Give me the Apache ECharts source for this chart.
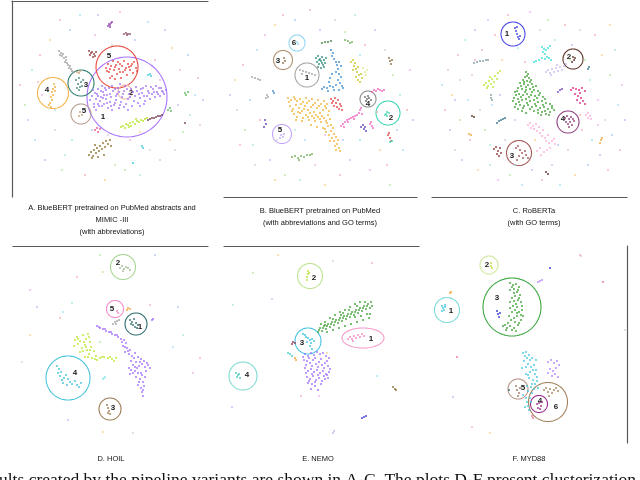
<!DOCTYPE html>
<html>
<head>
<meta charset="utf-8">
<title>Cluster maps</title>
<script src="https://cdn.jsdelivr.net/npm/echarts@6.0.0/dist/echarts.min.js"></script>
<style>
    html, body {margin:0; padding:0; background:#fff;}
    #chart {width:640px; height:480px;}
</style>
</head>
<body>
<div id="chart"></div>
<script>
// ---- data: local embedding coordinates per panel ----
// each panel: list of clusters (points as [x, y]), background points, circled groups [x, y, rx, ry, label, labelX, labelY]

var clustersA = [
    // big purple group
    [[90,100],[92,96],[94,104],[96,99],[97,94],[99,106],[100,101],[101,97],[103,92],[104,104],[106,99],[107,95],[108,108],[110,102],[111,97],[113,91],[114,105],[116,100],[117,94],[118,88],[119,108],[121,102],[122,97],[124,91],[125,86],[126,104],[128,99],[129,94],[131,89],[132,106],[134,101],[135,96],[137,91],[138,103],[140,98],[142,93],[143,88],[145,101],[147,96],[148,91],[150,99],[152,94],[153,89],[155,97],[157,92],[159,88],[160,96],[162,91],[164,94],[166,90],[96,110],[112,110],[128,110],[144,104],[105,88],[140,106],
     [93,90],[95,93],[98,89],[101,91],[102,86],[104,95],[106,90],[109,88],[110,94],[112,86],[115,89],[116,96],[119,92],[120,84],[123,94],[127,89],[130,97],[133,92],[136,87],[139,94],[141,89],[144,96],[146,86],[149,93],[151,87],[154,92],[156,86],[158,94],[161,88],[163,92],[94,107],[98,104],[102,106],[107,103],[111,106],[115,103],[120,105],[124,107],[98,96],[103,98]],
    // red
    [[106,68],[108,64],[109,72],[111,66],[112,76],[113,61],[114,70],[116,65],[117,74],[118,62],[119,69],[121,78],[122,66],[123,72],[124,61],[126,68],[127,75],[128,64],[130,70],[131,66],[133,73],[134,62],[136,68],[137,71],[115,79],[110,78],[107,71],[110,69],[115,67],[120,64],[125,70],[129,67],[132,64],[120,72]],
    // grey
    [[59,51],[61,53],[62,56],[63,54],[64,58],[66,60],[65,62],[67,63],[68,65],[70,66],[69,68],[71,69],[72,71],[74,72],[66,57],[60,55]],
    // dark red
    [[89,51],[91,53],[90,55],[92,52],[94,54],[93,57],[95,56],[96,52]],
    // purple small
    [[108,26],[109,24],[110,25],[111,23],[110,27],[112,22]],
    // maroon
    [[124,34],[126,33],[127,35],[128,34],[130,34]],
    // teal
    [[76,80],[78,84],[79,78],[80,87],[81,82],[82,86],[77,88],[83,80],[79,90]],
    // tan
    [[77,72],[79,73],[80,71],[80,112],[82,115],[79,116]],
    // orange
    [[54,84],[55,87],[53,89],[52,92],[53,95],[51,97],[52,100],[50,103],[49,105],[51,107],[55,91]],
    // yellow-green
    [[121,127],[123,126],[125,128],[126,124],[128,125],[130,123],[131,126],[133,122],[135,124],[137,121],[139,122],[141,120],[143,121],[145,119],[147,118],[129,127],[136,119]],
    // brown
    [[89,155],[91,152],[93,156],[94,150],[96,153],[97,148],[99,151],[100,146],[102,149],[103,143],[105,147],[106,141],[108,144],[110,140],[111,146],[92,158],[98,157],[104,155],[95,145]],
    // dark maroon
    [[148,120],[150,119],[152,118],[154,118],[156,117],[158,116],[160,116],[162,115],[185,123]],
    // green
    [[168,110],[170,108],[171,111],[185,93],[186,95],[188,92]],
    // cyan
    [[148,75],[150,74],[151,76],[142,146],[143,148],[133,163]],
    // pink
    [[95,130],[97,128],[98,132],[100,129]]
];
var speckA = [[20,85],[25,105],[28,120],[32,70],[35,140],[40,55],[42,95],[45,160],[50,40],[55,130],[60,20],[62,170],[70,30],[72,140],[80,15],[85,175],[95,35],[98,15],[105,180],[112,45],[120,12],[125,170],[135,40],[140,175],[148,22],[155,60],[160,160],[165,30],[172,48],[175,150],[180,70],[183,132],[188,55],[190,115],[195,95],[198,78],[200,125],[203,100],[170,140],[150,150],[130,140],[115,165],[92,130],[65,155],[55,110],[38,82],[160,80],[178,105],[140,132],[108,135]];
var ringsA = [[127,97,40,40,'1',103,117],[117,67,21,21,'5',109,56],[125,92,7,7,'2',131,93],[81,83,13,13,'3',86,85],[53,93,15.5,15.5,'4',47,90],[81,114,10,10,'5',84,111]];

var clustersB = [
    // orange
    [[73,98],[76,100],[79,97],[82,101],[85,99],[88,102],[91,98],[94,101],[97,99],[100,103],[103,100],[106,104],[109,101],[112,104],[75,106],[78,109],[81,105],[84,108],[87,111],[90,106],[93,110],[96,107],[99,112],[102,108],[105,113],[108,110],[111,108],[114,111],[79,114],[82,117],[85,113],[88,118],[91,115],[94,120],[97,116],[100,121],[103,117],[106,122],[109,118],[112,123],[115,119],[96,125],[102,127],[108,128],[113,126],[111,132],[114,135],[116,131],[117,138],[119,141],[121,137],[122,144],[124,148],[125,151],[120,146],[118,128],
     [74,102],[80,99],[86,104],[92,103],[98,105],[104,106],[110,106],[77,111],[83,112],[89,109],[95,113],[101,115],[107,116],[113,115],[81,120],[87,121],[93,117],[99,118],[105,119],[111,121],[116,125],[115,141],[119,134],[123,140],[121,150],[110,129]],
    // blue
    [[116,50],[118,53],[117,56],[119,59],[121,62],[122,65],[124,62],[126,66],[123,69],[121,72],[124,74],[126,77],[123,80],[125,83],[127,86],[121,85],[118,87],[115,86],[112,88],[109,87],[107,89],[113,91],[119,90],[124,90],[128,88],[115,78],[117,74],[114,82],[58,91],[59,93]],
    // dark teal
    [[101,58],[103,56],[105,59],[107,57],[109,60],[111,58],[102,62],[104,64],[106,61],[108,65],[110,63],[103,67],[106,68],[109,67],[104,60],[107,63]],
    // olive
    [[136,62],[138,60],[140,63],[139,66],[141,69],[143,67],[142,72],[144,75],[141,77],[143,80],[145,82],[146,74],[138,70],[147,78]],
    // light yellow-green
    [[148,68],[150,72],[152,70],[151,75]],
    // red
    [[116,99],[118,101],[120,98],[121,103],[123,100],[125,104],[122,107],[124,109],[126,106],[127,110],[119,106],[117,103],[173,135],[174,133],[175,138],[176,141]],
    // magenta
    [[126,126],[128,124],[130,122],[132,120],[134,119],[136,118],[138,117],[140,116],[142,115],[144,113],[145,110],[146,108],[147,114],[133,122],[129,127],[139,119],[157,92],[159,90],[161,91],[163,89],[165,90],[167,91],[169,90],[155,124],[156,122],[157,126],[158,128]],
    // indigo
    [[146,127],[148,125],[149,129],[150,127],[151,131],[50,120],[51,124],[49,127]],
    // green
    [[77,157],[80,156],[83,158],[86,156],[89,157],[92,155],[95,155],[97,154],[84,160],[130,40],[133,41],[135,43],[137,42]],
    // dark green
    [[107,43],[110,42],[113,42],[116,41]],
    // brown
    [[174,58],[175,61],[176,64],[177,60],[69,58],[70,61],[68,63]],
    // grey
    [[85,70],[88,71],[91,72],[94,73],[97,74],[100,75],[87,74],[52,95],[53,97],[51,98],[37,77],[40,78],[43,79],[45,80]],
    // dark grey
    [[150,97],[152,99],[154,98],[156,100],[151,101],[153,96]],
    // aqua
    [[171,114],[172,112],[174,113],[172,116],[170,115],[175,142],[177,141]],
    // lavender
    [[66,135],[68,137],[65,138],[69,134]],
    // light blue
    [[82,42],[83,44]]
];
var speckB = [[15,95],[20,80],[22,110],[28,65],[30,130],[35,100],[38,145],[42,50],[45,120],[50,35],[55,160],[60,25],[62,140],[68,15],[70,175],[80,20],[85,180],[90,140],[95,10],[100,165],[105,30],[110,185],[120,20],[125,175],[130,32],[135,160],[140,15],[145,140],[150,45],[155,170],[160,30],[165,150],[170,50],[172,165],[178,75],[182,130],[185,95],[188,150],[192,110],[195,70],[198,120],[60,180],[40,165],[25,145],[175,185],[128,140],[80,130],[145,55],[162,112],[110,135]];
var ringsB = [[82,43,8,8,'6',79,43],[68,60,9.5,9.5,'3',63,61],[92,75,12,12,'1',92,78],[153,99,8,8,'4',153,104],[173,113,12,12,'2',176,118],[67,134,9.5,9.5,'5',65,130]];

var clustersC = [
    // green
    [[96,72],[98,74],[95,77],[99,78],[93,80],[97,81],[101,80],[90,83],[94,84],[98,85],[102,84],[106,86],[88,88],[92,89],[96,90],[100,89],[104,90],[108,91],[85,92],[89,94],[93,95],[97,94],[101,95],[105,96],[109,95],[113,97],[84,98],[88,99],[92,100],[96,99],[100,101],[104,100],[108,102],[112,101],[116,103],[86,104],[90,105],[94,106],[98,105],[102,107],[106,106],[110,108],[114,107],[118,109],[122,106],[104,111],[108,113],[112,112],[116,114],[120,112],[124,110],[88,109],[92,111],
     [97,76],[94,82],[100,82],[91,86],[96,87],[103,87],[87,91],[95,92],[102,92],[110,93],[86,95],[91,97],[99,97],[107,98],[115,99],[83,101],[89,102],[97,103],[105,104],[113,105],[120,104],[85,107],[93,108],[100,109],[108,110],[115,111],[122,108],[96,113],[119,115],[111,115]],
    // lime
    [[54,85],[56,83],[58,86],[59,81],[61,84],[62,79],[64,82],[65,76],[67,79],[68,73],[70,71],[63,87],[57,88],[60,77]],
    // cyan
    [[112,47],[114,49],[116,50],[118,48],[113,52],[115,54],[117,57],[115,59],[112,58],[109,60],[106,61],[104,62],[119,58],[121,60],[120,46]],
    // lavender
    [[116,72],[118,70],[120,73],[122,69],[124,72],[126,68],[128,71],[130,67],[132,70],[134,66],[136,64],[127,65],[121,75]],
    // magenta
    [[141,90],[143,88],[146,89],[149,90],[152,88],[155,91],[150,93],[148,96],[151,98],[147,100],[150,103],[153,101],[155,104],[145,94]],
    // light pink
    [[98,125],[100,123],[103,126],[106,124],[109,127],[104,129],[107,131],[110,133],[113,130],[112,136],[115,138],[118,135],[116,141],[119,143],[122,141],[125,144],[120,148],[117,150],[114,152],[110,148],[107,151],[111,155],[124,139],[101,128],[156,115],[158,113],[160,116],[161,119],[158,118]],
    // blue
    [[85,28],[86,31],[87,34],[88,37],[89,39],[87,27],[90,36]],
    // dark brown
    [[143,57],[144,60],[142,62],[145,58],[42,116],[44,117],[116,172],[118,174]],
    // plum
    [[135,118],[137,116],[139,119],[141,117],[136,122],[138,124],[140,122],[142,125],[144,121],[139,127],[143,119]],
    // rosy
    [[86,148],[88,146],[90,150],[92,153],[89,156],[93,158],[96,155],[98,158],[95,151],[87,160]],
    // dark red
    [[64,149],[66,147],[68,151],[70,148],[67,154],[69,156],[71,153]],
    // grey teal
    [[44,63],[47,62],[50,61],[53,61],[56,60],[58,60],[61,95],[61,98],[62,100]],
    // teal
    [[67,123],[69,121],[71,120],[73,119],[75,118],[158,69],[159,67]],
    // purple
    [[128,92],[130,90],[132,89]],
    // orange
    [[170,143],[171,140],[172,138],[39,134],[41,135]]
];
var speckC = [[12,85],[15,110],[18,70],[20,130],[22,95],[25,150],[28,55],[30,120],[32,160],[35,40],[38,100],[40,140],[42,75],[45,30],[48,170],[50,110],[52,50],[55,130],[58,20],[60,165],[62,105],[65,35],[68,180],[70,95],[72,60],[75,140],[78,15],[80,175],[85,120],[88,48],[92,185],[95,62],[100,12],[102,170],[105,140],[110,30],[112,180],[118,20],[122,165],[125,40],[130,185],[135,25],[138,150],[142,45],[145,175],[150,30],[152,130],[155,60],[158,165],[160,80],[162,140],[165,35],[168,100],[170,155],[172,55],[175,120],[178,170],[180,75],[182,135],[185,50],[188,105],[190,150],[192,85],[195,120],[180,25],[30,80],[45,60],[140,60],[128,145],[60,145],[85,165],[150,115],[168,125],[25,100]];
var ringsC = [[83,34,12,12,'1',77,34],[143,59,10,10,'2',139,57],[138,122,11,11,'4',133,119],[89,153,12.5,12.5,'3',82,156]];

var clustersD = [
    // purple
    [[97,86],[100,88],[103,89],[106,91],[109,92],[112,94],[115,95],[118,97],[121,99],[124,100],[126,103],[123,106],[127,108],[130,110],[125,112],[129,114],[132,116],[135,113],[138,117],[141,119],[144,121],[136,122],[133,125],[139,126],[142,124],[145,127],[148,125],[150,128],[131,130],[135,131],[138,133],[142,135],[146,131],[136,137],[140,139],[143,142],[138,145],[141,148],[144,146],[142,152],[143,156],[130,134],[129,128],[152,80],[153,79],
     [99,87],[105,89],[111,92],[117,95],[122,102],[125,107],[128,111],[134,118],[140,122],[147,123],[137,128],[133,133],[141,133],[145,137],[139,142],[143,150],[135,127],[131,121]],
    // lime
    [[75,100],[77,97],[80,101],[83,95],[86,99],[88,94],[90,102],[85,105],[82,108],[87,110],[91,107],[94,111],[89,114],[85,117],[92,118],[96,116],[100,118],[104,117],[108,118],[112,119],[116,118],[97,120],[80,112],[74,106],
     [78,99],[84,102],[89,97],[83,111],[90,110],[88,117],[95,119],[102,117],[110,117],[114,121],[78,104],[86,107]],
    // cyan
    [[57,126],[59,129],[61,132],[60,136],[62,140],[64,138],[66,135],[68,139],[70,142],[67,145],[72,144],[75,141],[77,145],[79,147],[81,143],[63,143],[58,133]],
    // dark teal
    [[130,80],[132,82],[134,79],[136,83],[133,85],[135,87],[138,85],[131,84],[137,88]],
    // pink
    [[117,71],[118,73]],
    // sage
    [[120,28],[122,26],[124,29],[126,27],[128,28],[130,30],[123,31]],
    // brown
    [[107,165],[108,168],[109,171],[110,174],[108,173]],
    // orange
    [[127,70],[128,68],[130,69]],
    // grey
    [[113,84],[115,82],[117,81],[119,80],[116,84]],
    // light cyan
    [[103,139],[105,137],[104,138]]
];
var speckD = [[100,15],[155,15],[72,63],[63,72],[60,78],[30,50],[37,67],[30,95],[22,122],[77,37],[103,32],[178,67],[183,95],[173,107],[200,118],[193,133],[68,180],[103,192],[133,193],[150,65],[100,102]];
var ringsD = [[68,138,22,22,'4',75,133],[136,84,11,11,'1',140,87],[115,69,8.5,8.5,'5',112,69],[123,27,12.5,12.5,'2',118,23],[110,169,11,11,'3',113,168]];

var clustersE = [
    // green
    [[103,92],[105,88],[107,91],[109,86],[111,89],[113,84],[115,87],[117,82],[119,85],[121,80],[123,83],[125,78],[127,81],[129,76],[131,79],[133,74],[135,77],[137,72],[139,75],[141,70],[143,73],[145,68],[147,71],[149,66],[151,69],[153,64],[155,68],[156,62],[145,62],[140,64],[135,67],[130,70],[125,72],[120,75],[115,78],[110,82],[106,84],[112,92],[118,90],[124,88],[130,86],[136,84],[142,82],[148,80],[154,78],[152,74],[140,77],[128,73],
     [104,90],[108,88],[112,86],[116,84],[120,82],[124,80],[128,78],[132,76],[136,74],[140,72],[144,70],[148,68],[152,66],[150,62],[142,66],[134,70],[126,75],[118,79],[110,85],[157,66],[155,74],[146,76]],
    // pink
    [[133,99],[135,97],[137,99],[139,96],[141,98],[143,95],[145,97],[147,94],[149,96],[138,101]],
    // cyan
    [[93,98],[95,100],[97,99],[96,103],[95,106],[97,109],[99,101],[92,102],[88,94],[90,95],[91,97]],
    // purple
    [[88,117],[90,114],[93,116],[96,113],[99,115],[102,112],[105,114],[108,113],[111,116],[114,118],[92,121],[95,123],[98,120],[101,124],[104,122],[107,125],[110,123],[113,126],[90,128],[93,131],[96,129],[99,132],[102,130],[105,133],[108,131],[111,134],[114,132],[92,137],[95,139],[98,136],[101,140],[104,138],[107,141],[110,139],[97,144],[100,146],[93,143],[113,138],
     [89,120],[94,118],[100,118],[106,119],[112,121],[91,125],[97,126],[103,127],[109,128],[115,129],[91,133],[97,134],[103,135],[109,136],[94,141],[100,142],[106,144],[112,135],[96,149],[103,150]],
    // lime
    [[93,31],[93,34],[92,37],[92,40],[94,33]],
    // teal
    [[21,133],[23,135],[22,137],[24,134],[25,138],[73,113],[75,114],[77,116]],
    // maroon
    [[77,104],[78,102],[80,103]],
    // orange
    [[80,118],[81,120]],
    // blue
    [[147,178],[149,177],[151,176]],
    // brown
    [[178,147],[180,149],[181,150]],
    // lavender
    [[118,193],[119,191]]
];
var speckE = [[63,15],[118,21],[157,23],[38,33],[57,59],[18,65],[162,136],[86,156],[104,156],[17,167],[112,113]];
var ringsE = [[148,98,21,10,'1',156,99],[93,101,13,13,'3',87,103],[95,36,12.5,12.5,'2',99,38],[28,136,14,14,'4',32,135]];

var clustersF = [
    // green
    [[80,43],[83,45],[86,44],[89,47],[84,49],[80,50],[87,52],[90,55],[85,56],[82,58],[88,60],[91,62],[86,64],[83,66],[80,68],[85,70],[89,72],[92,70],[87,76],[84,78],[81,80],[78,83],[75,85],[80,86],[84,88],[88,85],[91,80],[73,86],[77,88],[82,90],[93,76],
     [82,47],[88,50],[84,53],[89,58],[84,61],[87,67],[82,72],[87,73],[91,75],[85,82],[89,83],[79,76],[76,90],[86,91],[92,66],[80,62]],
    // blue
    [[67,71],[68,74],[69,77],[70,73],[120,28]],
    // lime
    [[61,23],[61,26],[62,28]],
    // cyan
    [[12,66],[13,68],[14,70],[15,67],[12,71],[15,65],[93,113],[96,112],[99,115],[102,118],[97,118],[94,121],[98,124],[101,127],[104,125],[106,130],[100,132],[96,134],[99,138],[103,140],[107,137],[105,144],[101,147],[98,151],[102,153],[100,158],[97,162],[95,167],[99,170],[93,155],[92,128],[108,148],[106,120],
     [95,116],[100,120],[96,127],[103,130],[98,135],[105,134],[102,144],[97,146],[104,149],[101,162],[98,166],[96,158],[107,141]],
    // lavender
    [[118,122],[121,120],[124,123],[127,121],[129,125],[126,128],[123,131],[120,129],[125,134],[128,137],[122,136],[118,133],[108,42],[110,41],[112,40]],
    // rosy brown
    [[86,146],[87,150],[89,153],[88,156],[90,148]],
    // tan
    [[114,150],[116,148],[118,152],[120,149],[122,153],[124,150],[126,148],[128,151],[119,156]],
    // magenta
    [[107,164],[109,163],[111,166],[108,168],[110,169],[112,162]],
    // pink / red
    [[102,176],[103,178],[173,42],[27,117]],
    // orange
    [[20,53],[21,52]],
    // dark teal
    [[79,150]]
];
var speckF = [[150,15],[151,16],[23,157],[60,193],[195,90],[42,187]];
var ringsF = [[59,25,9,9,'2',57,25],[17,70,12.5,12.5,'1',21,71],[82,67,29,29,'3',67,58],[88,149,10,10,'5',93,148],[118,162,19.5,19.5,'6',126,167],[109,164,8.5,8.5,'4',110,161]];

var captions = [
    'A. BlueBERT pretrained on PubMed abstracts and\nMIMIC -III\n(with abbreviations)',
    'B. BlueBERT pretrained on PubMed\n(with abbreviations and GO terms)',
    'C. RoBERTa\n(with GO terms)',
    'D. HOIL',
    'E. NEMO',
    'F. MYD88'
];
var footText = 'ults created by the pipeline variants are shown in A-C. The plots D-F present clusterization';

// ---- styles ----
var coloursA = ['#a370f7','#e8413c','#9a9a9a','#8e3b3b','#8e44ad','#8a4a66','#3e8577','#c49a6c','#f0a830','#b4e21e','#8c6a2a','#6e3b50','#4fc04f','#33c7dd','#e8508f'];
var coloursB = ['#efb030','#3a8ad0','#2a8a7a','#c8c420','#dde88a','#e04040','#f060c0','#5a3ab0','#6aaa50','#3f7a3a','#8c6a40','#a0a0a0','#666666','#3fd4b4','#c3a6f5','#8fd6f2'];
var coloursC = ['#3aa030','#b8e830','#30dede','#c8b8f0','#e02080','#f8a8d8','#3a3ae0','#5a2e24','#8a3a7a','#a05050','#8b3030','#7a9a9a','#30708a','#7040c0','#f0a030'];
var coloursD = ['#a06bff','#b8e830','#3cc0d8','#2a6a6a','#f080c0','#a0b890','#9a7a50','#f0a030','#a0a0a0','#90e8e8'];
var coloursE = ['#3aa030','#f080c0','#30c0e0','#a06bff','#b8e030','#40c8c0','#8a3050','#f0a030','#3a3ae0','#8a6a30','#c8b0f0'];
var coloursF = ['#3aa030','#3030d0','#b8e030','#40c8e0','#b080ff','#a07060','#a08050','#9a2a8a','#f07090','#f0a030','#2a6a6a'];
var ringColours = [
    ['#a974ff','#e84a40','#f2b5a5','#2f8074','#f7b54c','#b49c8c'],
    ['#8fd6f2','#b08f70','#a6a6a6','#8c8c8c','#3fd4b4','#c3a6f5'],
    ['#4a46e6','#5c2e24','#8d3f7e','#a45a5a'],
    ['#4cc6dc','#2b6b6b','#f58ac6','#a9d694','#9c7a52'],
    ['#f59acb','#47c3e3','#bde394','#7fdad2'],
    ['#cfe89a','#7ddbdb','#3fa845','#b89484','#a5835e','#9b2c8d']
];
var speckColours = ['#f7a8c9','#c4b0f4','#9fdcef','#b8e39b','#f6cf88','#f2aaaa','#a9c6f3','#cfcfcf','#e7b3e8','#a6e6d0'];

// panel frames: [left, top, width, height], axis ranges, which border is drawn
var panels = [
    {box:[12,1,196,196],   x:[12,208], y:[1,197],  xLine:'top',    yLine:'left'},
    {box:[224,0,193,197],  x:[9,202],  y:[0,197],  xLine:'bottom', yLine:null},
    {box:[432,0,195,197],  x:[2,197],  y:[0,197],  xLine:'bottom', yLine:null},
    {box:[13,246,195,204], x:[13,208], y:[6,210],  xLine:'top',    yLine:null},
    {box:[224,246,195,204],x:[9,204],  y:[6,210],  xLine:'top',    yLine:null},
    {box:[430,246,197,197],x:[0,197],  y:[6,203],  xLine:null,     yLine:'right'}
];
var captionPos = [[112,202],[320,205],[534,205],[111,453],[318,453],[529,453]];

var allClusters = [clustersA, clustersB, clustersC, clustersD, clustersE, clustersF];
var allColours = [coloursA, coloursB, coloursC, coloursD, coloursE, coloursF];
var allSpeck = [speckA, speckB, speckC, speckD, speckE, speckF];
var allRings = [ringsA, ringsB, ringsC, ringsD, ringsE, ringsF];

var lineStyle = {color:'#5a5a5a', width:1.2};
var grid = [], xAxis = [], yAxis = [], series = [], title = [];

panels.forEach(function (p, i) {
    grid.push({left:p.box[0], top:p.box[1], width:p.box[2], height:p.box[3], outerBoundsMode:'none'});
    xAxis.push({
        type:'value', gridIndex:i, min:p.x[0], max:p.x[1],
        position:p.xLine || 'bottom', show:!!p.xLine,
        axisLine:{show:!!p.xLine, onZero:false, lineStyle:lineStyle},
        axisTick:{show:false}, axisLabel:{show:false}, splitLine:{show:false}
    });
    yAxis.push({
        type:'value', gridIndex:i, min:p.y[0], max:p.y[1], inverse:true,
        position:p.yLine || 'left', show:!!p.yLine,
        axisLine:{show:!!p.yLine, onZero:false, lineStyle:lineStyle},
        axisTick:{show:false}, axisLabel:{show:false}, splitLine:{show:false}
    });

    // faint background points
    var sp = allSpeck[i];
    series.push({
        type:'scatter', xAxisIndex:i, yAxisIndex:i, clip:false, silent:true,
        symbolSize:2, data:sp,
        itemStyle:{opacity:0.85, color:function (q) { return speckColours[(q.dataIndex * 3 + i) % speckColours.length]; }}
    });

    // clusters
    var cols = allColours[i];
    var data = [];
    allClusters[i].forEach(function (pts, c) {
        pts.forEach(function (pt) { data.push([pt[0], pt[1], c]); });
    });
    series.push({
        type:'scatter', xAxisIndex:i, yAxisIndex:i, clip:false, silent:true,
        symbolSize:2, data:data,
        itemStyle:{opacity:0.9, color:function (q) { return cols[q.value[2]]; }}
    });

    // circled groups
    var rings = allRings[i];
    var rc = ringColours[i];
    series.push({
        type:'custom', xAxisIndex:i, yAxisIndex:i, silent:true,
        data:rings.map(function (r) { return [r[0], r[1], r[2], r[3], 0, r[5], r[6]]; }),
        renderItem:function (params, api) {
            var cx = api.value(0), cy = api.value(1);
            var c = api.coord([cx, cy]);
            var s = api.size([api.value(2), api.value(3)], [cx, cy]);
            var pts = [];
            for (var k = 0; k < 90; k++) {
                var a = k / 90 * Math.PI * 2;
                pts.push([c[0] + s[0] * Math.cos(a), c[1] + s[1] * Math.sin(a)]);
            }
            var t = api.coord([api.value(5), api.value(6)]);
            return {type:'group', children:[
                {type:'polygon', shape:{points:pts}, style:{fill:null, stroke:rc[params.dataIndex], lineWidth:1.1}},
                {type:'text', x:t[0], y:t[1], style:{text:rings[params.dataIndex][4], fill:'#1a1a1a',
                    font:'bold 8px "Liberation Sans", Arial, sans-serif', align:'center', verticalAlign:'middle'}}
            ]};
        }
    });

    title.push({
        text:captions[i], left:captionPos[i][0], top:captionPos[i][1], textAlign:'center', padding:0,
        textStyle:{fontSize:7.5, fontWeight:'normal', color:'#111', lineHeight:12, fontFamily:'"Liberation Sans", Arial, sans-serif'}
    });
});

title.push({
    text:footText, left:-1, top:471, padding:0,
    textStyle:{fontSize:17.5, fontWeight:'normal', color:'#111', fontFamily:'"Liberation Serif", "DejaVu Serif", serif'}
});

var chart = echarts.init(document.getElementById('chart'), null, {renderer:'canvas'});
chart.setOption({
    animation:false,
    backgroundColor:'#fff',
    title:title,
    grid:grid,
    xAxis:xAxis,
    yAxis:yAxis,
    series:series
});
</script>
</body>
</html>
